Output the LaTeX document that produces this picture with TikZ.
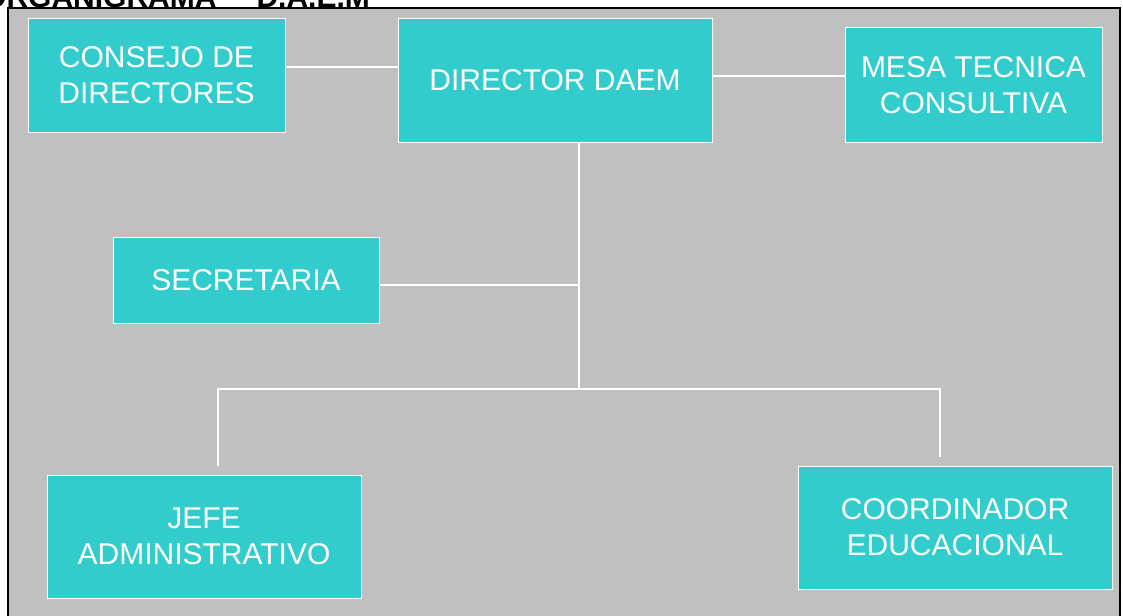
\documentclass[tikz,border=0pt]{standalone}
\usepackage{fontspec}
\setmainfont{Liberation Sans}
\definecolor{turq}{HTML}{33CCCC}
\definecolor{bggray}{HTML}{C0C0C0}
\begin{document}
\begin{tikzpicture}[x=1pt,y=-1pt,
  box/.style={draw=white, line width=1pt, fill=turq, text=white, inner sep=0pt,
    align=center, font=\fontsize{30}{36}\selectfont},
  link/.style={draw=white, line width=1.5pt}]
\useasboundingbox (0,0) rectangle (1123,615);
% frame
\fill[bggray] (7.5,8) rectangle (1120,630);
\draw[black, line width=2pt] (7.5,630) -- (7.5,8) -- (1120,8) -- (1120,630);
% title
\node[anchor=base west, inner sep=0pt, font=\bfseries\fontsize{30}{36}\selectfont] (title)
  at (-17,7.5) {ORGANIGRAMA\hspace{40pt}D.A.E.M};
% boxes
\node[box, minimum width=257pt, minimum height=113pt] (consejo) at (156.5,75.5) {CONSEJO DE\\DIRECTORES};
\node[box, minimum width=314pt, minimum height=123pt] (director) at (555,80.5) {DIRECTOR DAEM};
\node[box, minimum width=257pt, minimum height=114pt] (mesa) at (973.5,85) {MESA TECNICA\\CONSULTIVA};
\node[box, minimum width=266pt, minimum height=86pt] (secretaria) at (246,280) {SECRETARIA};
\node[box, minimum width=314pt, minimum height=123pt] (jefe) at (204,536.5) {JEFE\\ADMINISTRATIVO};
\node[box, minimum width=314pt, minimum height=123pt] (coord) at (955,527.5) {COORDINADOR\\EDUCACIONAL};
% helper coordinates
\coordinate (ya) at (0,67);
\coordinate (yb) at (0,76);
\coordinate (hub) at (579,285);
\coordinate (split) at (579,389);
\coordinate (lc) at (218,389);
\coordinate (rc) at (940,389);
\coordinate (lend) at (218,466);
\coordinate (rend) at (940,457);
% connectors
\draw[link] (consejo.east |- ya) -- (director.west |- ya);
\draw[link] (director.east |- yb) -- (mesa.west |- yb);
\draw[link] (director.south -| split) -- (split);
\draw[link] (secretaria.east |- hub) -- (hub);
\draw[link] (lend) -- (lc) -- (rc) -- (rend);
\end{tikzpicture}
\end{document}
